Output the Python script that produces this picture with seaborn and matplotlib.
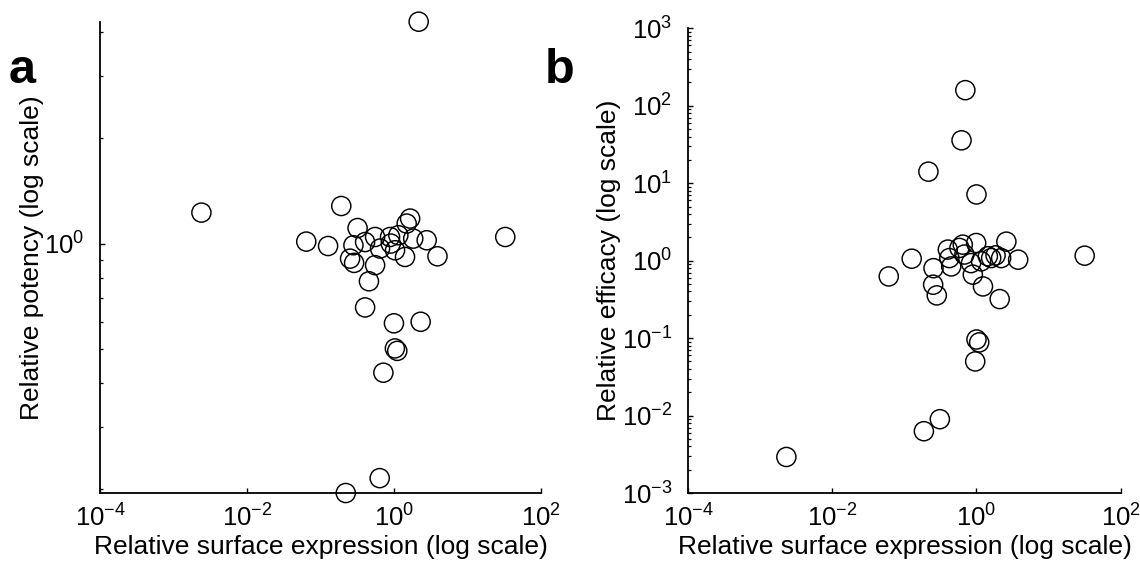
import numpy as np
import pandas as pd
import matplotlib
matplotlib.use("Agg")
import matplotlib.pyplot as plt
import matplotlib.ticker as mticker
import seaborn as sns

# Panel a: relative surface expression vs relative potency
expr_a = [2.17, 0.0024, 0.192, 32.7, 0.0641, 0.127, 0.320, 3.91, 0.457,
          0.253, 0.287, 0.281, 0.405, 0.554, 0.647, 0.554, 0.885, 0.905,
          1.148, 1.035, 1.415, 1.49, 1.66, 1.83, 2.79,
          0.405, 1.0, 2.31, 1.03, 1.11, 0.718, 0.64, 0.221]
potency = [4.28, 1.225, 1.279, 1.044, 1.013, 0.984, 1.107, 0.920, 0.781,
           0.906, 0.881, 0.989, 1.010, 1.044, 0.968, 0.868, 1.044, 1.000,
           1.056, 0.957, 0.916, 1.14, 1.178, 1.033, 1.022,
           0.658, 0.593, 0.599, 0.503, 0.495, 0.429, 0.215, 0.195]

# Panel b: relative surface expression vs relative efficacy
expr_b = [0.70, 0.62, 0.215, 1.0, 0.0605, 0.126, 31.8, 2.6, 3.79,
          0.00229, 0.186, 0.31, 1.0, 1.09, 0.96, 2.10, 0.281, 0.25, 1.23,
          0.253, 0.40, 0.42, 0.446, 0.58, 0.68, 0.645, 0.99, 0.84, 0.89,
          1.16, 1.44, 1.6, 1.84, 2.2]
efficacy = [159, 35.8, 14.1, 7.16, 0.626, 1.06, 1.16, 1.76, 1.03,
            0.00292, 0.00628, 0.00898, 0.096, 0.088, 0.050, 0.319, 0.356, 0.489, 0.465,
            0.80, 1.39, 1.08, 0.843, 1.46, 1.20, 1.61, 1.69, 0.93, 0.66,
            0.98, 1.14, 1.08, 1.17, 1.08]

x_ticks = [1e-4, 1e-2, 1e0, 1e2]
x_label = "Relative surface expression (log scale)"

sns.set_theme(style="white")
plt.rcParams["font.family"] = ["Liberation Sans", "DejaVu Sans"]
plt.rcParams["mathtext.default"] = "regular"
plt.rcParams["axes.unicode_minus"] = True

fig = plt.figure(figsize=(11.4, 5.65), dpi=100)
ax_a = fig.add_axes([0.0877, 0.1274, 0.3868, 0.8342])
ax_b = fig.add_axes([0.6039, 0.1274, 0.3790, 0.8225])

df_a = pd.DataFrame({"expr": expr_a, "val": potency})
df_b = pd.DataFrame({"expr": expr_b, "val": efficacy})

for ax, df in ((ax_a, df_a), (ax_b, df_b)):
    sns.scatterplot(data=df, x="expr", y="val", ax=ax, marker="o", s=190,
                    facecolors="none", edgecolor="black", linewidth=1.05,
                    clip_on=False, zorder=3)
    ax.set_xscale("log")
    ax.set_yscale("log")
    ax.set_xlim(1e-4, 1e2)
    ax.set_xticks(x_ticks)
    ax.xaxis.set_minor_locator(mticker.NullLocator())
    ax.yaxis.set_minor_formatter(mticker.NullFormatter())
    for side in ("top", "right"):
        ax.spines[side].set_visible(False)
    for side in ("left", "bottom"):
        ax.spines[side].set_linewidth(1.3)
        ax.spines[side].set_color("black")
    ax.tick_params(which="major", direction="in", length=3.3, width=1.0,
                   color="black", labelsize=18.5, labelcolor="black")
    ax.tick_params(which="minor", direction="in", length=1.8, width=0.9,
                   color="black")
    ax.tick_params(axis="y", which="both", left=True, pad=11.5)
    ax.tick_params(axis="x", which="both", bottom=True, pad=8)
    ax.set_xlabel(x_label, fontsize=19, color="black")
    ax.xaxis.set_label_coords(0.5, -0.09)

# Panel a: potency axis spans the data range, labelled only at 10^0
ax_a.set_ylim(min(potency), max(potency))
ax_a.yaxis.set_major_locator(mticker.LogLocator(base=10, numticks=10))
ax_a.yaxis.set_minor_locator(mticker.LogLocator(base=10, subs=np.arange(2, 10), numticks=10))
ax_a.set_ylabel("Relative potency (log scale)", fontsize=19, color="black")
ax_a.yaxis.set_label_coords(-0.127, 0.5)

# Panel b: efficacy axis from 10^-3 to 10^3
ax_b.set_ylim(1e-3, 1e3)
ax_b.yaxis.set_major_locator(mticker.LogLocator(base=10, numticks=20))
ax_b.yaxis.set_minor_locator(mticker.LogLocator(base=10, subs=np.arange(2, 10), numticks=20))
ax_b.set_ylabel("Relative efficacy (log scale)", fontsize=19, color="black")
ax_b.yaxis.set_label_coords(-0.157, 0.5)

fig.text(0.0075, 1 - 83 / 565, "a", fontsize=35, fontweight="bold",
         ha="left", va="baseline", color="black")
fig.text(0.478, 1 - 83 / 565, "b", fontsize=35, fontweight="bold",
         ha="left", va="baseline", color="black")

fig.savefig("out.png", dpi=100, facecolor="white")
